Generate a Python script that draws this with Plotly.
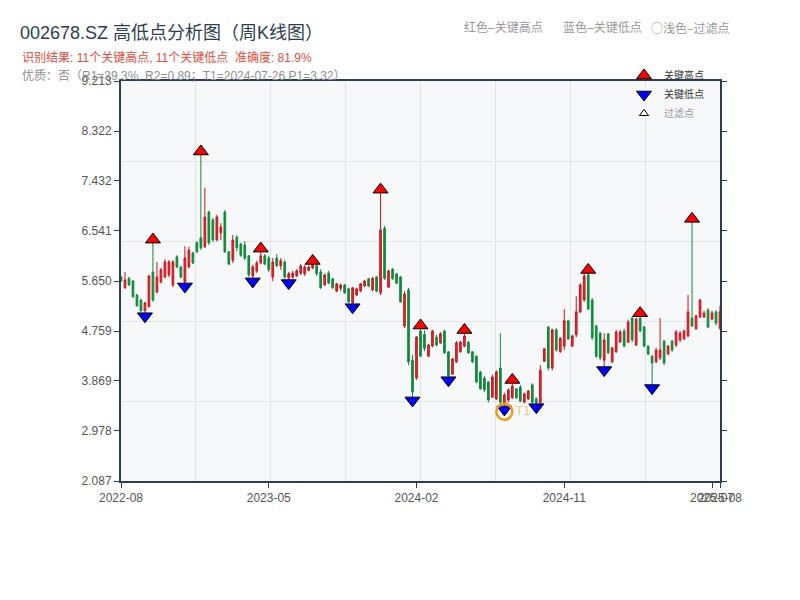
import pandas as pd
import plotly.graph_objects as go

# ---------------- data ----------------
fridays = pd.date_range("2022-08-26", "2025-08-08", freq="W-FRI")
closed_weeks = pd.to_datetime(["2022-10-07", "2023-01-27", "2023-10-06", "2024-02-16"])
dates = [d.strftime("%Y-%m-%d") for d in fridays if d not in closed_weeks]

open_ = [5.72, 5.53, 5.70, 5.65, 5.40, 5.31, 5.12, 5.19, 5.81, 5.45,
         5.63, 5.72, 5.76, 5.58, 6.08, 5.90, 5.63, 5.90, 6.15, 6.33,
         6.42, 6.26, 6.88, 6.74, 6.38, 6.51, 6.88, 6.17, 6.02, 6.43,
         6.31, 6.29, 6.10, 5.74, 5.83, 5.97, 6.10, 6.06, 5.72, 6.06,
         5.92, 5.99, 5.70, 5.72, 5.74, 5.79, 5.78, 5.84, 5.88, 5.92,
         5.81, 5.58, 5.79, 5.69, 5.47, 5.52, 5.58, 5.51, 5.26, 5.40,
         5.47, 5.56, 5.69, 5.49, 5.72, 5.44, 6.59, 5.54, 5.86, 5.78,
         5.72, 4.85, 5.49, 4.24, 3.92, 4.76, 4.70, 4.31, 4.49, 4.65,
         4.55, 4.76, 4.39, 3.99, 4.21, 4.39, 4.49, 4.56, 4.39, 4.31,
         4.03, 3.92, 3.85, 3.58, 3.55, 4.10, 3.48, 3.53, 3.57, 3.73,
         3.76, 3.49, 3.55, 3.80, 3.55, 3.48, 4.22, 4.83, 4.10, 4.78,
         4.39, 4.49, 4.94, 4.49, 4.69, 5.10, 5.31, 5.76, 5.31, 4.85,
         4.72, 4.24, 4.71, 4.21, 4.39, 4.56, 4.76, 4.56, 4.99, 4.51,
         4.99, 4.83, 4.49, 4.31, 4.21, 4.28, 4.58, 4.35, 4.58, 4.51,
         4.60, 4.62, 4.67, 4.99, 4.80, 5.01, 5.01, 5.13, 4.97, 5.10,
         4.81]
high = [5.74, 5.81, 5.72, 5.67, 5.42, 5.33, 5.28, 5.76, 6.33, 5.99,
        5.88, 6.04, 6.02, 6.02, 6.11, 5.92, 6.27, 6.26, 6.17, 6.36,
        7.90, 7.31, 6.90, 6.77, 6.83, 6.68, 6.91, 6.18, 6.47, 6.47,
        6.33, 6.36, 6.11, 5.94, 6.01, 6.17, 6.13, 6.10, 6.06, 6.13,
        6.06, 6.02, 5.81, 5.83, 5.86, 5.95, 5.94, 5.92, 5.95, 5.94,
        5.86, 5.78, 5.83, 5.70, 5.61, 5.60, 5.60, 5.53, 5.54, 5.53,
        5.61, 5.67, 5.70, 5.72, 5.74, 7.22, 6.63, 5.85, 5.88, 5.79,
        5.74, 5.47, 5.53, 4.33, 4.67, 4.80, 4.77, 4.53, 4.78, 4.69,
        4.74, 4.78, 4.40, 4.28, 4.58, 4.58, 4.72, 4.58, 4.40, 4.33,
        4.05, 3.96, 3.87, 3.98, 4.06, 4.72, 3.66, 3.74, 3.83, 3.74,
        3.80, 3.66, 3.71, 3.83, 3.58, 4.15, 4.46, 4.85, 4.80, 4.81,
        4.65, 5.15, 4.96, 4.69, 5.38, 5.61, 5.78, 5.79, 5.35, 4.87,
        4.74, 4.72, 4.72, 4.47, 4.78, 4.78, 4.80, 4.96, 5.01, 4.99,
        5.02, 4.85, 4.50, 4.33, 4.46, 4.99, 4.60, 4.51, 4.60, 4.78,
        4.76, 4.78, 5.40, 6.70, 5.04, 5.33, 5.12, 5.17, 5.12, 5.13,
        5.21]
low = [5.63, 5.51, 5.56, 5.35, 5.19, 5.10, 5.08, 5.19, 5.28, 5.44,
       5.61, 5.70, 5.72, 5.54, 5.88, 5.70, 5.61, 5.88, 5.95, 6.15,
       6.20, 6.24, 6.29, 6.35, 6.36, 6.38, 6.15, 5.94, 5.97, 6.18,
       6.08, 6.02, 5.72, 5.70, 5.79, 5.95, 5.94, 5.81, 5.65, 5.90,
       5.85, 5.69, 5.67, 5.69, 5.72, 5.76, 5.74, 5.82, 5.86, 5.74,
       5.51, 5.56, 5.60, 5.51, 5.45, 5.47, 5.42, 5.26, 5.24, 5.38,
       5.45, 5.54, 5.54, 5.47, 5.45, 5.40, 5.67, 5.53, 5.67, 5.60,
       5.26, 4.81, 4.15, 3.58, 3.89, 4.30, 4.40, 4.30, 4.47, 4.49,
       4.53, 4.35, 3.94, 3.98, 4.19, 4.37, 4.47, 4.35, 4.19, 3.83,
       3.71, 3.67, 3.49, 3.57, 3.53, 3.44, 3.42, 3.49, 3.55, 3.55,
       3.49, 3.48, 3.53, 3.48, 3.46, 3.47, 4.21, 4.06, 4.06, 4.39,
       4.37, 4.42, 4.60, 4.47, 4.65, 5.08, 5.28, 5.14, 4.60, 4.28,
       4.24, 4.12, 4.35, 4.19, 4.37, 4.55, 4.47, 4.55, 4.56, 4.49,
       4.74, 4.47, 4.33, 3.80, 4.19, 4.24, 4.15, 4.33, 4.39, 4.47,
       4.56, 4.60, 4.65, 4.83, 4.78, 4.99, 4.99, 4.81, 4.95, 4.86,
       4.78]
close = [5.65, 5.67, 5.58, 5.37, 5.21, 5.12, 5.26, 5.74, 5.31, 5.72,
         5.85, 5.99, 5.99, 5.99, 5.90, 5.72, 6.06, 6.20, 5.97, 6.17,
         6.24, 6.79, 6.33, 6.38, 6.79, 6.61, 6.17, 5.95, 6.38, 6.24,
         6.11, 6.06, 5.76, 5.90, 5.97, 6.10, 5.95, 5.85, 5.99, 5.92,
         6.01, 5.72, 5.78, 5.79, 5.83, 5.92, 5.90, 5.90, 5.94, 5.78,
         5.53, 5.76, 5.61, 5.53, 5.60, 5.58, 5.44, 5.28, 5.53, 5.51,
         5.60, 5.65, 5.56, 5.70, 5.47, 6.56, 5.70, 5.83, 5.69, 5.61,
         5.28, 5.42, 4.21, 3.67, 4.65, 4.31, 4.45, 4.51, 4.76, 4.51,
         4.71, 4.37, 3.96, 4.26, 4.55, 4.56, 4.67, 4.37, 4.21, 3.85,
         3.73, 3.71, 3.53, 3.94, 4.03, 3.49, 3.62, 3.71, 3.78, 3.57,
         3.51, 3.64, 3.69, 3.49, 3.48, 4.06, 4.44, 4.10, 4.78, 4.42,
         4.63, 4.94, 4.62, 4.67, 5.10, 5.58, 5.74, 5.15, 4.64, 4.31,
         4.28, 4.60, 4.37, 4.46, 4.74, 4.74, 4.49, 4.92, 4.60, 4.97,
         4.76, 4.49, 4.35, 4.19, 4.42, 4.42, 4.19, 4.49, 4.42, 4.74,
         4.72, 4.76, 5.10, 4.85, 5.03, 5.31, 5.08, 4.83, 5.08, 4.90,
         5.10]

key_high_idx = [8, 20, 35, 48, 65, 75, 86, 98, 117, 130, 143]
key_low_idx = [6, 16, 33, 42, 58, 73, 82, 96, 104, 121, 133]
t1_date = "2024-07-26"
p1_value = 3.32

y_ticks = [2.087, 2.978, 3.869, 4.759, 5.650, 6.541, 7.432, 8.322, 9.213]
x_tick_idx = [0, 37, 74, 111, 148, 150]
x_tick_vals = [dates[i] for i in x_tick_idx]
x_tick_text = [dates[i][:7] for i in x_tick_idx]

# ---------------- figure ----------------
FONT = "Liberation Sans, Arial, Noto Sans CJK SC, sans-serif"
y_min, y_max = y_ticks[0], y_ticks[-1]
off = 0.008 * (y_max - y_min)

# page body adds an 8px offset; plot area in the screenshot is x 121-720, y 81-481
L, T, W, H = 113, 73, 599, 400
px = lambda sx: (sx - 121) / W
py = lambda sy: (481 - sy) / H

fig = go.Figure()
fig.add_trace(go.Candlestick(
    x=dates, open=open_, high=high, low=low, close=close,
    increasing=dict(line=dict(color="#c8141b", width=1), fillcolor="#ec2b2b"),
    decreasing=dict(line=dict(color="#108a3c", width=1), fillcolor="#108a3c"),
    whiskerwidth=0, showlegend=False, hoverinfo="skip",
))
# grid-only overlay axes (the reference grid does not follow the tick labels)
fig.add_trace(go.Scatter(x=[], y=[], xaxis="x2", yaxis="y2",
                         showlegend=False, hoverinfo="skip"))

fig.add_trace(go.Scatter(
    x=[dates[i] for i in key_high_idx],
    y=[high[i] + off for i in key_high_idx],
    mode="markers", name="关键高点",
    marker=dict(symbol="triangle-up", size=13, color="#ff0000",
                line=dict(color="black", width=1)),
    hoverinfo="skip",
))
fig.add_trace(go.Scatter(
    x=[dates[i] for i in key_low_idx],
    y=[low[i] - off for i in key_low_idx],
    mode="markers", name="关键低点",
    marker=dict(symbol="triangle-down", size=13, color="#0000ff",
                line=dict(color="black", width=1)),
    hoverinfo="skip",
))
fig.add_trace(go.Scatter(
    x=[None], y=[None], mode="markers",
    name="<span style='color:#999999'>过滤点</span>",
    marker=dict(symbol="triangle-up", size=8, color="#fff0f0",
                line=dict(color="black", width=1)),
    hoverinfo="skip",
))
fig.add_trace(go.Scatter(
    x=[t1_date], y=[p1_value], mode="markers+text", text=["T1"],
    textposition="middle right",
    textfont=dict(color="rgba(243,156,18,0.55)", size=13, family=FONT),
    marker=dict(symbol="circle-open", size=16, color="#f39c12",
                line=dict(width=2.5, color="#f39c12")),
    showlegend=False, hoverinfo="skip",
))

axis_col = "#2c3e50"
fig.update_layout(
    width=800, height=600,
    margin=dict(l=L, r=800 - L - W, t=T, b=600 - T - H),
    paper_bgcolor="white", plot_bgcolor="#f6f8fa",
    boxgap=0.4,
    font=dict(family=FONT, size=12, color="#555555"),
    title=dict(text="002678.SZ 高低点分析图（周K线图）",
               font=dict(family=FONT, size=18, color="#2c3e50"),
               x=12 / 800, xanchor="left", y=1 - 25 / 600, yanchor="middle"),
    xaxis=dict(type="category", range=[0, len(dates) - 1],
               rangeslider=dict(visible=False),
               tickmode="array", tickvals=x_tick_vals, ticktext=x_tick_text,
               tickangle=0,
               ticks="outside", ticklen=5, tickcolor=axis_col, tickwidth=1,
               showline=True, linecolor=axis_col, linewidth=2, mirror=True,
               showgrid=False, zeroline=False,
               tickfont=dict(size=12, color="#555555")),
    yaxis=dict(range=[y_min, y_max], tickmode="array", tickvals=y_ticks,
               ticktext=[f"{v:.3f}" for v in y_ticks],
               ticks="outside", ticklen=5, tickcolor=axis_col, tickwidth=1,
               showline=True, linecolor=axis_col, linewidth=2, mirror="ticks",
               showgrid=False, zeroline=False,
               tickfont=dict(size=12, color="#555555")),
    xaxis2=dict(overlaying="x", anchor="y2", side="top", range=[0, 8],
                tickvals=list(range(1, 8)), showticklabels=False, ticks="",
                showgrid=True, gridcolor="#e1e5ea", gridwidth=1,
                showline=False, zeroline=False),
    yaxis2=dict(overlaying="y", anchor="x2", side="right", range=[0, 5],
                tickvals=[1, 2, 3, 4], showticklabels=False, ticks="",
                showgrid=True, gridcolor="#e1e5ea", gridwidth=1,
                showline=False, zeroline=False),
    legend=dict(x=px(624), y=py(61), xanchor="left", yanchor="top",
                bgcolor="rgba(0,0,0,0)",
                font=dict(size=10, color="#333333", family=FONT),
                tracegroupgap=0),
    showlegend=True,
)

annos = [
    ("识别结果: 11个关键高点, 11个关键低点\u00a0\u00a0准确度: 81.9%", 20, 58, "#e74c3c"),
    ("优质：否（R1=39.3%, R2=0.89；T1=2024-07-26 P1=3.32）", 20, 76, "#8f8f8f"),
    ("红色–关键高点", 462, 28, "#999999"),
    ("蓝色–关键低点", 561, 28, "#999999"),
    ("○浅色–过滤点", 649, 28, "#999999"),
]
for text, sx, sy, col in annos:
    fig.add_annotation(text=text, x=px(sx), y=py(sy), xref="paper", yref="paper",
                       xanchor="left", yanchor="middle", showarrow=False,
                       font=dict(size=12, color=col,
                                 family="Noto Sans CJK SC, sans-serif" if text.startswith("○") else FONT))

fig.write_html("out.html")
